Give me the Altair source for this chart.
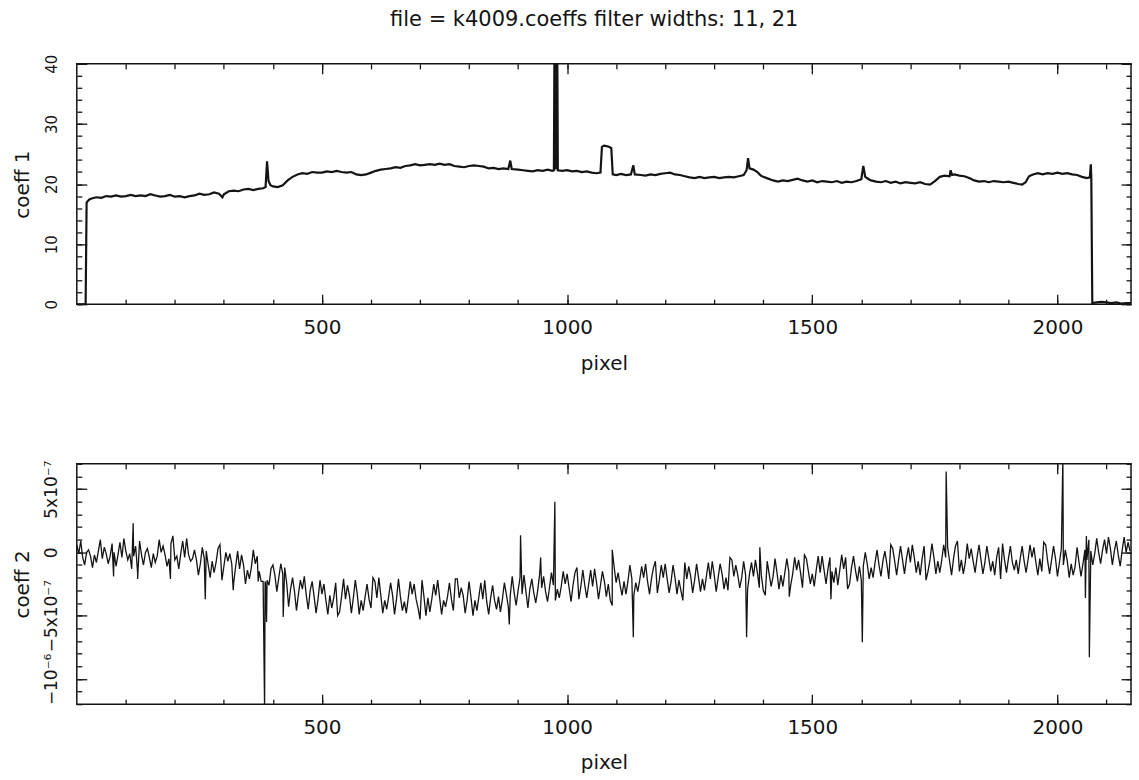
import altair as alt
import pandas as pd

INK = "#141414"
FONT = "DejaVu Sans"

# ---------------- data: top panel (coeff 1) ----------------
top_pixel = [0, 18, 20, 25, 30, 40, 50, 60, 70, 80, 90, 100, 110, 120, 130, 140, 150, 160, 170, 180,
             190, 200, 210, 220, 230, 240, 250, 260, 270, 280, 290, 297, 300, 310, 320, 330, 340, 350,
             360, 370, 380, 385, 388, 391, 395, 400, 410, 420, 430, 440, 450, 460, 470, 480, 490, 500,
             510, 520, 530, 540, 550, 560, 570, 580, 590, 600, 610, 620, 630, 640, 650, 660, 670, 680,
             690, 700, 710, 720, 730, 740, 750, 760, 770, 780, 790, 800, 810, 820, 830, 840, 850, 860,
             870, 880, 884, 887, 900, 910, 920, 930, 940, 950, 960, 970, 973, 974, 975, 976, 977, 978,
             979, 980, 981, 990, 1000, 1010, 1020, 1030, 1040, 1050, 1060, 1068, 1071, 1075, 1080, 1085,
             1090, 1093, 1100, 1110, 1120, 1130, 1135, 1138, 1150, 1160, 1170, 1180, 1190, 1200, 1210,
             1220, 1230, 1240, 1250, 1260, 1270, 1280, 1290, 1300, 1310, 1320, 1330, 1340, 1350, 1360,
             1366, 1369, 1372, 1380, 1388, 1395, 1400, 1410, 1420, 1430, 1440, 1450, 1460, 1470, 1480,
             1490, 1500, 1510, 1520, 1530, 1540, 1550, 1560, 1570, 1580, 1590, 1600, 1604, 1608, 1615,
             1620, 1630, 1640, 1650, 1660, 1670, 1680, 1690, 1700, 1710, 1720, 1730, 1740, 1750, 1760,
             1770, 1780, 1782, 1785, 1790, 1800, 1810, 1820, 1830, 1840, 1850, 1860, 1870, 1880, 1890,
             1900, 1910, 1920, 1928, 1935, 1942, 1950, 1960, 1970, 1980, 1990, 2000, 2010, 2020, 2030,
             2040, 2050, 2060, 2066, 2068, 2069, 2071, 2080, 2090, 2100, 2110, 2120, 2130, 2140, 2150]
top_coeff = [0.0, 0.0, 16.9, 17.4, 17.6, 17.8, 17.7, 18.0, 17.9, 18.1, 17.9, 18.0, 18.2, 18.0, 18.1, 18.0, 18.3, 18.1, 17.9, 18.0,
             18.2, 17.9, 18.0, 17.8, 18.0, 18.1, 18.4, 18.2, 18.3, 18.6, 18.4, 17.8, 18.3, 18.8, 18.9, 18.8, 19.1, 19.2,
             19.0, 19.2, 19.3, 19.5, 23.8, 20.5, 19.8, 19.6, 19.5, 19.8, 20.6, 21.2, 21.6, 21.8, 21.7, 22.0, 21.9, 21.9,
             22.1, 22.0, 22.2, 22.0, 21.9, 22.0, 21.6, 21.5, 21.6, 21.9, 22.2, 22.4, 22.5, 22.6, 22.8, 22.7, 23.0, 23.1,
             23.3, 23.1, 23.2, 23.3, 23.2, 23.4, 23.2, 23.3, 23.0, 22.9, 22.8, 23.0, 23.1, 23.0, 22.9, 22.6, 22.7, 22.5,
             22.6, 22.5, 23.9, 22.5, 22.4, 22.3, 22.2, 22.1, 22.3, 22.2, 22.4, 22.2, 22.3, 41.0, 22.4, 41.0, 22.4, 41.0,
             22.4, 41.0, 22.3, 22.2, 22.3, 22.1, 22.2, 22.0, 22.1, 21.9, 21.8, 21.9, 26.2, 26.4, 26.3, 26.2,
             26.0, 21.6, 21.5, 21.7, 21.5, 21.6, 23.1, 21.6, 21.5, 21.4, 21.6, 21.5, 21.7, 21.8, 21.9,
             21.6, 21.5, 21.3, 21.1, 21.0, 21.2, 21.0, 21.1, 21.2, 21.0, 21.1, 21.2, 21.1, 21.3, 21.5,
             22.3, 24.3, 22.6, 22.4, 22.0, 21.4, 21.2, 20.9, 20.6, 20.4, 20.6, 20.5, 20.7, 20.9, 20.6,
             20.4, 20.6, 20.3, 20.5, 20.4, 20.3, 20.5, 20.2, 20.4, 20.3, 20.5, 20.8, 23.0, 21.2, 20.8,
             20.6, 20.4, 20.3, 20.5, 20.2, 20.4, 20.1, 20.3, 20.2, 20.1, 20.3, 20.0, 19.9, 20.5, 21.2,
             21.4, 21.3, 22.3, 21.5, 21.6, 21.4, 21.3, 21.0, 20.6, 20.4, 20.5, 20.3, 20.5, 20.4, 20.3,
             20.4, 20.2, 20.0, 19.9, 20.3, 21.3, 21.6, 21.8, 21.6, 21.8, 21.7, 21.9, 21.7, 21.8, 21.6,
             21.5, 21.2, 21.0, 21.1, 23.3, 21.0, 0.2, 0.3, 0.4, 0.3, 0.2, 0.3, 0.1, 0.2, 0.2]

# ---------------- data: bottom panel (coeff 2, in units of 1e-7) ----------------
bot_pixel = list(range(0, 2152, 8))
bot_coeff_e7 = [
    0.6, 0.9, -1.0, 0.2, -1.2, -0.8, 1.0, 0.4, -0.9, 0.7,
    -1.1, 0.8, 1.1, -0.6, -1.3, 0.5, 0.9, -1.0, 0.3, -1.2,
    -0.8, 1.0, 0.5, -1.1, 0.7, -0.6, -1.3, 0.9, 1.1, -0.7,
    0.2, -1.8, 0.4, 0.1, -2.0, -1.6, 0.3, -2.2, 0.0, -0.1,
    -2.4, 0.1, -0.2, -2.5, -2.1, 0.2, -0.3, -2.3, -2.3, -2.6,
    -1.0, -3.1, -0.9, -1.2, -4.3, -2.0, -4.6, -2.2, -1.9, -4.5,
    -2.3, -4.8, -2.2, -2.5, -4.9, -4.4, -2.4, -4.7, -2.1, -2.6,
    -4.8, -2.2, -4.9, -4.6, -2.5, -4.4, -2.3, -2.0, -4.8, -4.5,
    -2.4, -4.9, -2.1, -4.6, -4.8, -2.3, -2.5, -4.4, -2.2, -5.0,
    -4.7, -2.5, -2.2, -4.9, -4.3, -2.4, -4.6, -2.1, -2.8, -4.8,
    -2.3, -5.0, -4.6, -2.4, -2.2, -4.9, -2.6, -4.5, -4.7, -2.4,
    -4.3, -1.9, -4.2, -2.0, -1.8, -4.4, -2.1, -4.0, -1.7, -1.9,
    -3.9, -1.6, -3.8, -3.6, -1.5, -1.7, -3.9, -1.6, -3.7, -1.4,
    -3.6, -1.4, -1.3, -3.7, -1.5, -3.5, -3.8, -1.2, -1.6, -3.4,
    -3.3, -1.0, -3.4, -3.1, -1.1, -0.9, -3.3, -1.2, -3.2, -1.0,
    -0.9, -3.2, -1.0, -3.3, -3.0, -0.8, -1.1, -3.2, -0.9, -3.1,
    -3.0, -0.8, -0.7, -3.1, -0.9, -2.9, -3.0, -0.6, -1.0, -2.8,
    -0.7, -2.9, -0.8, -0.6, -2.8, -3.0, -0.7, -2.7, -0.5, -2.9,
    -2.7, -0.5, -2.6, -0.4, -0.6, -2.8, -0.5, -2.5, -2.7, -0.3,
    -0.3, -2.5, -0.4, -2.4, -2.6, -0.2, -0.4, -2.5, -0.3, -2.3,
    -2.2, 0.0, -2.1, -2.0, 0.2, -1.9, 0.1, -2.1, 0.3, -1.8,
    0.5, -1.7, 0.4, 0.6, -1.6, -1.8, 0.5, -1.5, 0.7, -1.7,
    -1.6, 0.6, 0.4, -1.8, 0.5, -1.5, -1.7, 0.7, 0.3, -1.6,
    0.6, -1.7, 0.5, -1.5, -1.8, 0.4, 0.7, -1.6, 0.5, -1.4,
    -1.7, 0.5, -1.6, 0.6, 0.4, -1.8, -1.5, 0.6, -1.7, 0.5,
    -1.9, 0.3, 0.2, -2.0, -1.8, 0.4, -1.9, 0.2, 1.0, -1.0,
    1.1, -0.9, 1.0, 1.2, -1.0, 0.9, -1.1, 1.2, 0.8,
]
mid_pixel = list(range(4, 2152, 8))
mid_coeff_e7 = [
    -0.1, -0.4, 0.0, -0.3, -0.2, 0.1, -0.5, -0.1, -0.3, 0.0,
    -0.2, -0.4, 0.1, -0.1, -0.3, -1.6, -0.2, 0.0, -0.4, -0.1,
    -0.3, 0.0, -0.2, -0.5, 1.3, -0.3, -0.1, -0.4, -0.2, -0.5,
    -0.6, -0.9, -0.5, -1.0, -0.7, -0.8, 0.6, -1.1, -0.7, -0.9,
    -1.1, -1.3, -1.0, -1.4, -1.2, -0.9, -1.5, -2.3, -2.2, -1.3,
    -1.8, -2.0, -1.7, -2.4, -2.9, -3.1, -3.3, -2.9, -3.4, -3.0,
    -3.5, -3.7, -3.3, -3.8, -3.4, -3.6, -5.0, -3.5, -3.7, -3.4,
    -3.6, -3.3, -3.8, -3.5, -3.7, -2.0, -3.6, -3.4, -3.8, -3.5,
    -3.4, -3.7, -3.5, -3.9, -3.6, -3.3, -3.7, -5.3, -3.5, -3.6,
    -3.7, -3.4, -3.6, -3.8, -3.5, -3.7, -2.1, -3.6, -3.4, -3.8,
    -3.6, -3.8, -3.5, -3.7, -3.9, -3.6, -3.8, -3.5, -3.7, -3.3,
    -3.4, -3.2, -3.0, -3.3, -3.1, -2.9, -3.2, -3.0, -2.8, -3.1,
    -2.8, -2.6, -2.9, -2.7, -2.5, -2.8, -2.6, -1.2, -2.7, -2.6,
    -2.5, -2.7, -2.4, -2.6, -2.3, -2.5, -4.2, -2.4, -2.6, -2.3,
    -2.3, -2.1, -2.4, -2.2, -2.0, -2.3, -2.1, -0.7, -2.2, -2.0,
    -2.1, -2.3, -2.0, -2.2, -3.8, -2.1, -1.9, -2.2, -2.0, -2.1,
    -1.9, -2.1, -1.8, -2.0, -1.7, -2.0, -0.4, -1.9, -1.8, -2.0,
    -1.8, -1.7, -1.9, -1.6, -1.8, -3.4, -1.7, -1.9, -1.6, -1.8,
    -1.6, -1.5, -1.7, -1.4, -1.6, -0.2, -1.5, -1.7, -1.4, -1.6,
    -1.4, -1.3, -1.5, -1.2, -1.4, -1.3, -2.9, -1.2, -1.4, -1.1,
    -1.1, -0.9, -1.2, -0.8, -1.0, -0.7, -0.9, 0.6, -0.7, -0.6,
    -0.6, -0.5, -0.8, -0.4, -0.7, -0.5, -2.2, -0.6, -0.4, -0.7,
    -0.6, -0.4, -0.7, -0.5, 0.9, -0.6, -0.8, -0.5, -0.7, -0.4,
    -0.6, -0.8, -0.5, -0.7, -0.4, -2.1, -0.6, -0.5, -0.8, -0.6,
    -0.5, -0.7, -0.6, -0.4, -0.8, -0.5, 0.8, -0.7, -0.6, -0.5,
    -0.8, -1.0, -0.7, -0.9, -1.1, -0.8, -0.9, -0.6, 0.1, -0.1,
    0.0, 0.2, -0.1, 0.3, 0.1, -0.2, 0.2, 0.0, 0.1,
]
spike_pixel = [75, 115, 124, 191, 262, 319, 370, 380, 383, 385, 387, 389, 421, 882, 905, 946, 975,
               1092, 1135, 1366, 1393, 1453, 1538, 1602, 1773, 2011, 2057, 2059, 2065]
spike_coeff_e7 = [-1.9, 2.3, -2.1, -2.1, -3.7, -3.0, -2.3, -2.3, -12.5, -2.5, -5.5, -2.3, -5.1, -5.7, 1.35, -0.4, 4.0,
                  0.2, -6.7, -6.7, 0.4, -3.5, -3.7, -7.1, 6.4, 7.5, -3.6, 1.3, -8.3]

# ---------------- axis ticks / labels ----------------
x_major = [500, 1000, 1500, 2000]
x_minor = list(range(100, 2200, 100))
y1_major = [0, 10, 20, 30, 40]
y1_minor = list(range(0, 42, 2))
y2_major = [-10, -5, 0, 5]
y2_minor = list(range(-12, 8))
y2_label_expr = ("datum.value == 5 ? '5x10⁻⁷' : datum.value == 0 ? '0' : "
                 "datum.value == -5 ? '−5x10⁻⁷' : '−10⁻⁶'")

top_df = pd.DataFrame({"pixel": top_pixel, "coeff": top_coeff})
bot_df = pd.concat([
    pd.DataFrame({"pixel": bot_pixel, "coeff": bot_coeff_e7}),
    pd.DataFrame({"pixel": mid_pixel, "coeff": mid_coeff_e7}),
    pd.DataFrame({"pixel": spike_pixel, "coeff": spike_coeff_e7}),
]).sort_values("pixel", kind="stable").reset_index(drop=True)

W, H = 1057, 241
MAJ, MIN = 10, 5


def axis(orient, values, major, **extra):
    size = MAJ if major else MIN
    a = dict(orient=orient, values=values, tickSize=size, offset=-size, domain=False, grid=False,
             tickColor=INK, tickWidth=1.3, labels=False, title=None)
    a.update(extra)
    return alt.Axis(**a)


common_label = dict(labels=True, labelFont=FONT, labelColor=INK, labelOverlap=False, labelFlush=False)
title_style = dict(titleFont=FONT, titleFontSize=20, titleFontWeight="normal", titleColor=INK)


def panel(df, ydomain, ymaj, ymin, ytitle, width_px, ylabel_size, label_expr=None):
    xs = alt.Scale(domain=[0, 2150], nice=False, zero=False)
    ys = alt.Scale(domain=ydomain, nice=False, zero=False)
    left_extra = dict(labelAngle=270, labelAlign="center", labelBaseline="alphabetic", labelPadding=20,
                      labelFontSize=ylabel_size, title=ytitle, titleX=-58, titleAngle=270,
                      titleAlign="center", titleBaseline="alphabetic", **common_label, **title_style)
    if label_expr:
        left_extra["labelExpr"] = label_expr
    bottom_extra = dict(labelPadding=13, labelFontSize=20, format="d", title="pixel", titleY=75,
                        titleBaseline="alphabetic", **common_label, **title_style)
    base = alt.Chart(df)
    l1 = base.mark_line(color=INK, strokeWidth=width_px, clip=True).encode(
        x=alt.X("pixel:Q", scale=xs, axis=axis("bottom", x_major, True, **bottom_extra)),
        y=alt.Y("coeff:Q", scale=ys, axis=axis("left", ymaj, True, **left_extra)),
    )
    l2 = base.mark_line(strokeOpacity=0, clip=True).encode(
        x=alt.X("pixel:Q", scale=xs, axis=axis("bottom", x_minor, False)),
        y=alt.Y("coeff:Q", scale=ys, axis=axis("left", ymin, False)),
    )
    l3 = base.mark_line(strokeOpacity=0, clip=True).encode(
        x=alt.X("pixel:Q", scale=xs, axis=axis("top", x_major, True)),
        y=alt.Y("coeff:Q", scale=ys, axis=axis("right", ymaj, True)),
    )
    l4 = base.mark_line(strokeOpacity=0, clip=True).encode(
        x=alt.X("pixel:Q", scale=xs, axis=axis("top", x_minor, False)),
        y=alt.Y("coeff:Q", scale=ys, axis=axis("right", ymin, False)),
    )
    return alt.layer(l1, l2, l3, l4).resolve_axis(x="independent", y="independent").properties(
        width=W, height=H)


top = panel(top_df, [0, 40], y1_major, y1_minor, "coeff 1", 2.2, 15)
bottom = panel(bot_df, [-12, 7], y2_major, y2_minor, "coeff 2", 1.3, 17, y2_label_expr)

chart = alt.vconcat(
    top, bottom, spacing=160, bounds="flush",
    title=alt.TitleParams("file = k4009.coeffs filter widths: 11, 21", font=FONT, fontSize=21,
                          fontWeight="normal", color=INK, anchor="middle", offset=24, dx=22),
).configure_view(stroke=INK, strokeWidth=1.5).properties(
    padding={"left": 12, "right": 6, "top": 7, "bottom": 4}, background="white")

chart.save("out.html", embed_options={"renderer": "svg", "actions": False})
